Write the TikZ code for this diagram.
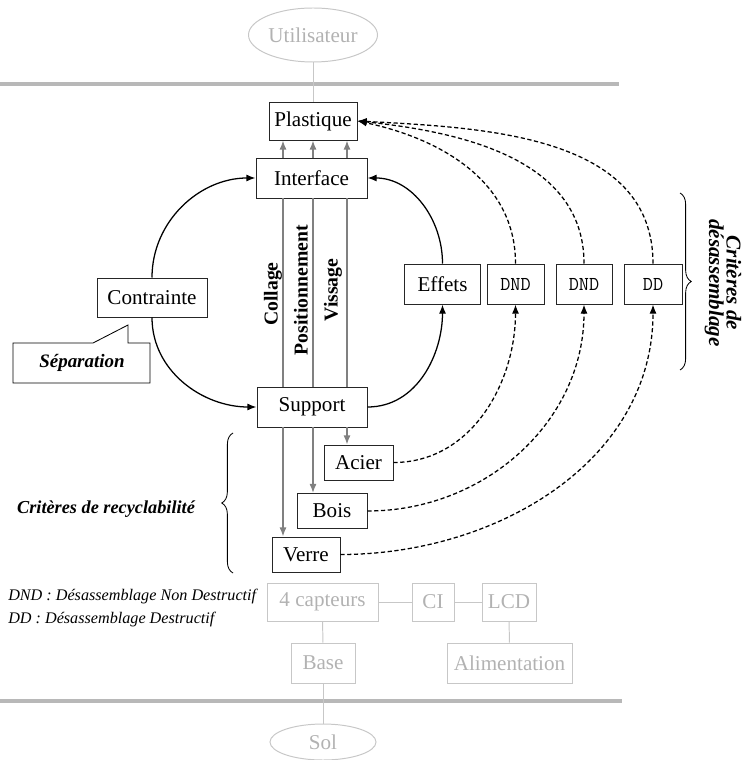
\documentclass[tikz,border=0pt]{standalone}
\usepackage{fontspec}
\setmainfont{Liberation Serif}
\usetikzlibrary{arrows.meta,decorations.pathreplacing,shapes.geometric}
\newlength{\pix}
\setlength{\pix}{0.025cm}
\tikzset{
  bloc/.style={draw=black!85, line width=0.7pt, inner sep=0pt, font=\fontsize{15}{18}\selectfont},
  pale/.style={draw=black!22, text=black!30, line width=0.7pt, inner sep=0pt, font=\fontsize{15}{18}\selectfont},
  critbox/.style={bloc, font=\ttfamily\fontsize{14}{16}\selectfont},
  bande/.style={draw=black!28, line width=2.8pt},
  trait/.style={draw=black!22, line width=0.7pt},
  flow/.style={draw=black!50, line width=0.9pt},
  lien/.style={black, line width=0.9pt, ->},
  critlien/.style={black, line width=0.9pt, dash pattern=on 3pt off 1.8pt, ->},
  etiq/.style={font=\bfseries\fontsize{14}{16}\selectfont, inner sep=0pt},
  accol/.style={decorate, decoration={brace, amplitude=8pt}, line width=0.6pt},
}
\begin{document}
\begin{tikzpicture}[x=0.025cm, y=-0.025cm, >={Latex[length=6.5pt,width=5pt]}]
\useasboundingbox (0,0) rectangle (746,760);

% bandes grises
\draw[bande] (0,84) -- (619,84);
\draw[bande] (0,701) -- (622,701);

% environnement
\node[pale, ellipse, minimum width=129\pix, minimum height=54\pix] (util) at (313,35) {Utilisateur};
\node[pale, ellipse, minimum width=106\pix, minimum height=36\pix] (sol) at (323,742) {Sol};
\node[pale, minimum width=111\pix, minimum height=38\pix] (capt) at (322.5,602) {4 capteurs};
\node[pale, minimum width=42\pix, minimum height=38\pix] (ci) at (433,602) {CI};
\node[pale, minimum width=54\pix, minimum height=38\pix] (lcd) at (509,602) {LCD};
\node[pale, minimum width=64\pix, minimum height=40\pix] (base) at (323,663) {Base};
\node[pale, minimum width=125\pix, minimum height=40\pix] (alim) at (509.5,663) {Alimentation};
\draw[trait] (capt) -- (ci);
\draw[trait] (ci) -- (lcd);
\draw[trait] (capt) -- (base);
\draw[trait] (lcd) -- (alim);
\draw[trait] (base) -- (sol);

% assemblage
\node[bloc, minimum width=88\pix, minimum height=38\pix] (plast) at (313,121) {Plastique};
\node[bloc, minimum width=111\pix, minimum height=40\pix] (inter) at (311.5,178) {Interface};
\node[bloc, minimum width=110\pix, minimum height=40\pix] (supp) at (312,407) {Support};
\node[bloc, minimum width=110\pix, minimum height=39\pix] (contr) at (152,297.5) {Contrainte};
\node[bloc, minimum width=76\pix, minimum height=40\pix] (eff) at (442.5,284) {Effets};
\node[critbox, minimum width=57\pix, minimum height=40\pix] (dnda) at (515.5,284) {DND};
\node[critbox, minimum width=56\pix, minimum height=40\pix] (dndb) at (584,284) {DND};
\node[critbox, minimum width=58\pix, minimum height=40\pix] (dd) at (653,284) {DD};
\node[bloc, minimum width=69\pix, minimum height=35\pix] (acier) at (358.5,462.5) {Acier};
\node[bloc, minimum width=70\pix, minimum height=35\pix] (bois) at (332,511) {Bois};
\node[bloc, minimum width=68\pix, minimum height=35\pix] (verre) at (306,554.5) {Verre};
\draw[trait] (util) -- (plast);

% liaisons
\coordinate (col) at (283,0);
\coordinate (pos) at (313,0);
\coordinate (vis) at (347,0);
\draw[flow, ->] (inter.north -| col) -- (plast.south -| col);
\draw[flow, ->] (inter.north -| pos) -- (plast.south -| pos);
\draw[flow, ->] (inter.north -| vis) -- (plast.south -| vis);
\draw[flow] (inter.south -| col) -- (supp.north -| col);
\draw[flow] (inter.south -| pos) -- (supp.north -| pos);
\draw[flow] (inter.south -| vis) -- (supp.north -| vis);
\draw[flow, ->] (supp.south -| col) -- (verre.north -| col);
\draw[flow, ->] (supp.south -| pos) -- (bois.north -| pos);
\draw[flow, ->] (supp.south -| vis) -- (acier.north -| vis);
\node[etiq, rotate=90] (lcol) at (273,294) {Collage};
\node[etiq, rotate=90] (lpos) at (301,290) {Positionnement};
\node[etiq, rotate=90] (lvis) at (333,290) {Vissage};

\draw[lien] (contr.north) to[out=90, in=180] (inter.west);
\draw[lien] (contr.south) to[out=-90, in=180] (supp.west);
\draw[lien] (supp.east) to[out=0, in=-90] (eff.south);
\draw[lien] (eff.north) to[out=90, in=0] (inter.east);

% criteres
\draw[critlien] (dnda.north) to[out=90, in=-12] (plast.east);
\draw[critlien] (dndb.north) to[out=90, in=-6] (plast.east);
\draw[critlien] (dd.north) to[out=90, in=-3] (plast.east);
\draw[critlien] (acier.east) to[out=0, in=-90] (dnda.south);
\draw[critlien] (bois.east) to[out=0, in=-90] (dndb.south);
\draw[critlien] (verre.east) to[out=0, in=-90] (dd.south);

% bulle
\draw[line width=0.6pt] (13,343) -- (93,343) -- (128,325) -- (128,343) -- (150,343)
  -- (150,383) -- (13,383) -- cycle;
\node[font=\bfseries\itshape\fontsize{13.5}{16}\selectfont] (sep) at (82,363) {Séparation};

% accolades
\coordinate (da) at (680,193);
\coordinate (db) at (680,370);
\draw[accol] (da) -- (db);
\node[rotate=-90, align=center, font=\bfseries\itshape\fontsize{15}{12.5}\selectfont] (ldes) at (723,283) {Critères de\\désassemblage};
\coordinate (ra) at (233,573);
\coordinate (rb) at (233,433);
\draw[accol] (ra) -- (rb);
\node[font=\bfseries\itshape\fontsize{13}{16}\selectfont] (lrec) at (106,509) {Critères de recyclabilité};

% legende
\node[anchor=west, inner sep=0pt, font=\itshape\fontsize{11.5}{14}\selectfont] (leg1) at (8,597) {DND : Désassemblage Non Destructif};
\node[anchor=west, inner sep=0pt, font=\itshape\fontsize{11.5}{14}\selectfont] (leg2) at (8,620) {DD : Désassemblage Destructif};
\end{tikzpicture}
\end{document}
